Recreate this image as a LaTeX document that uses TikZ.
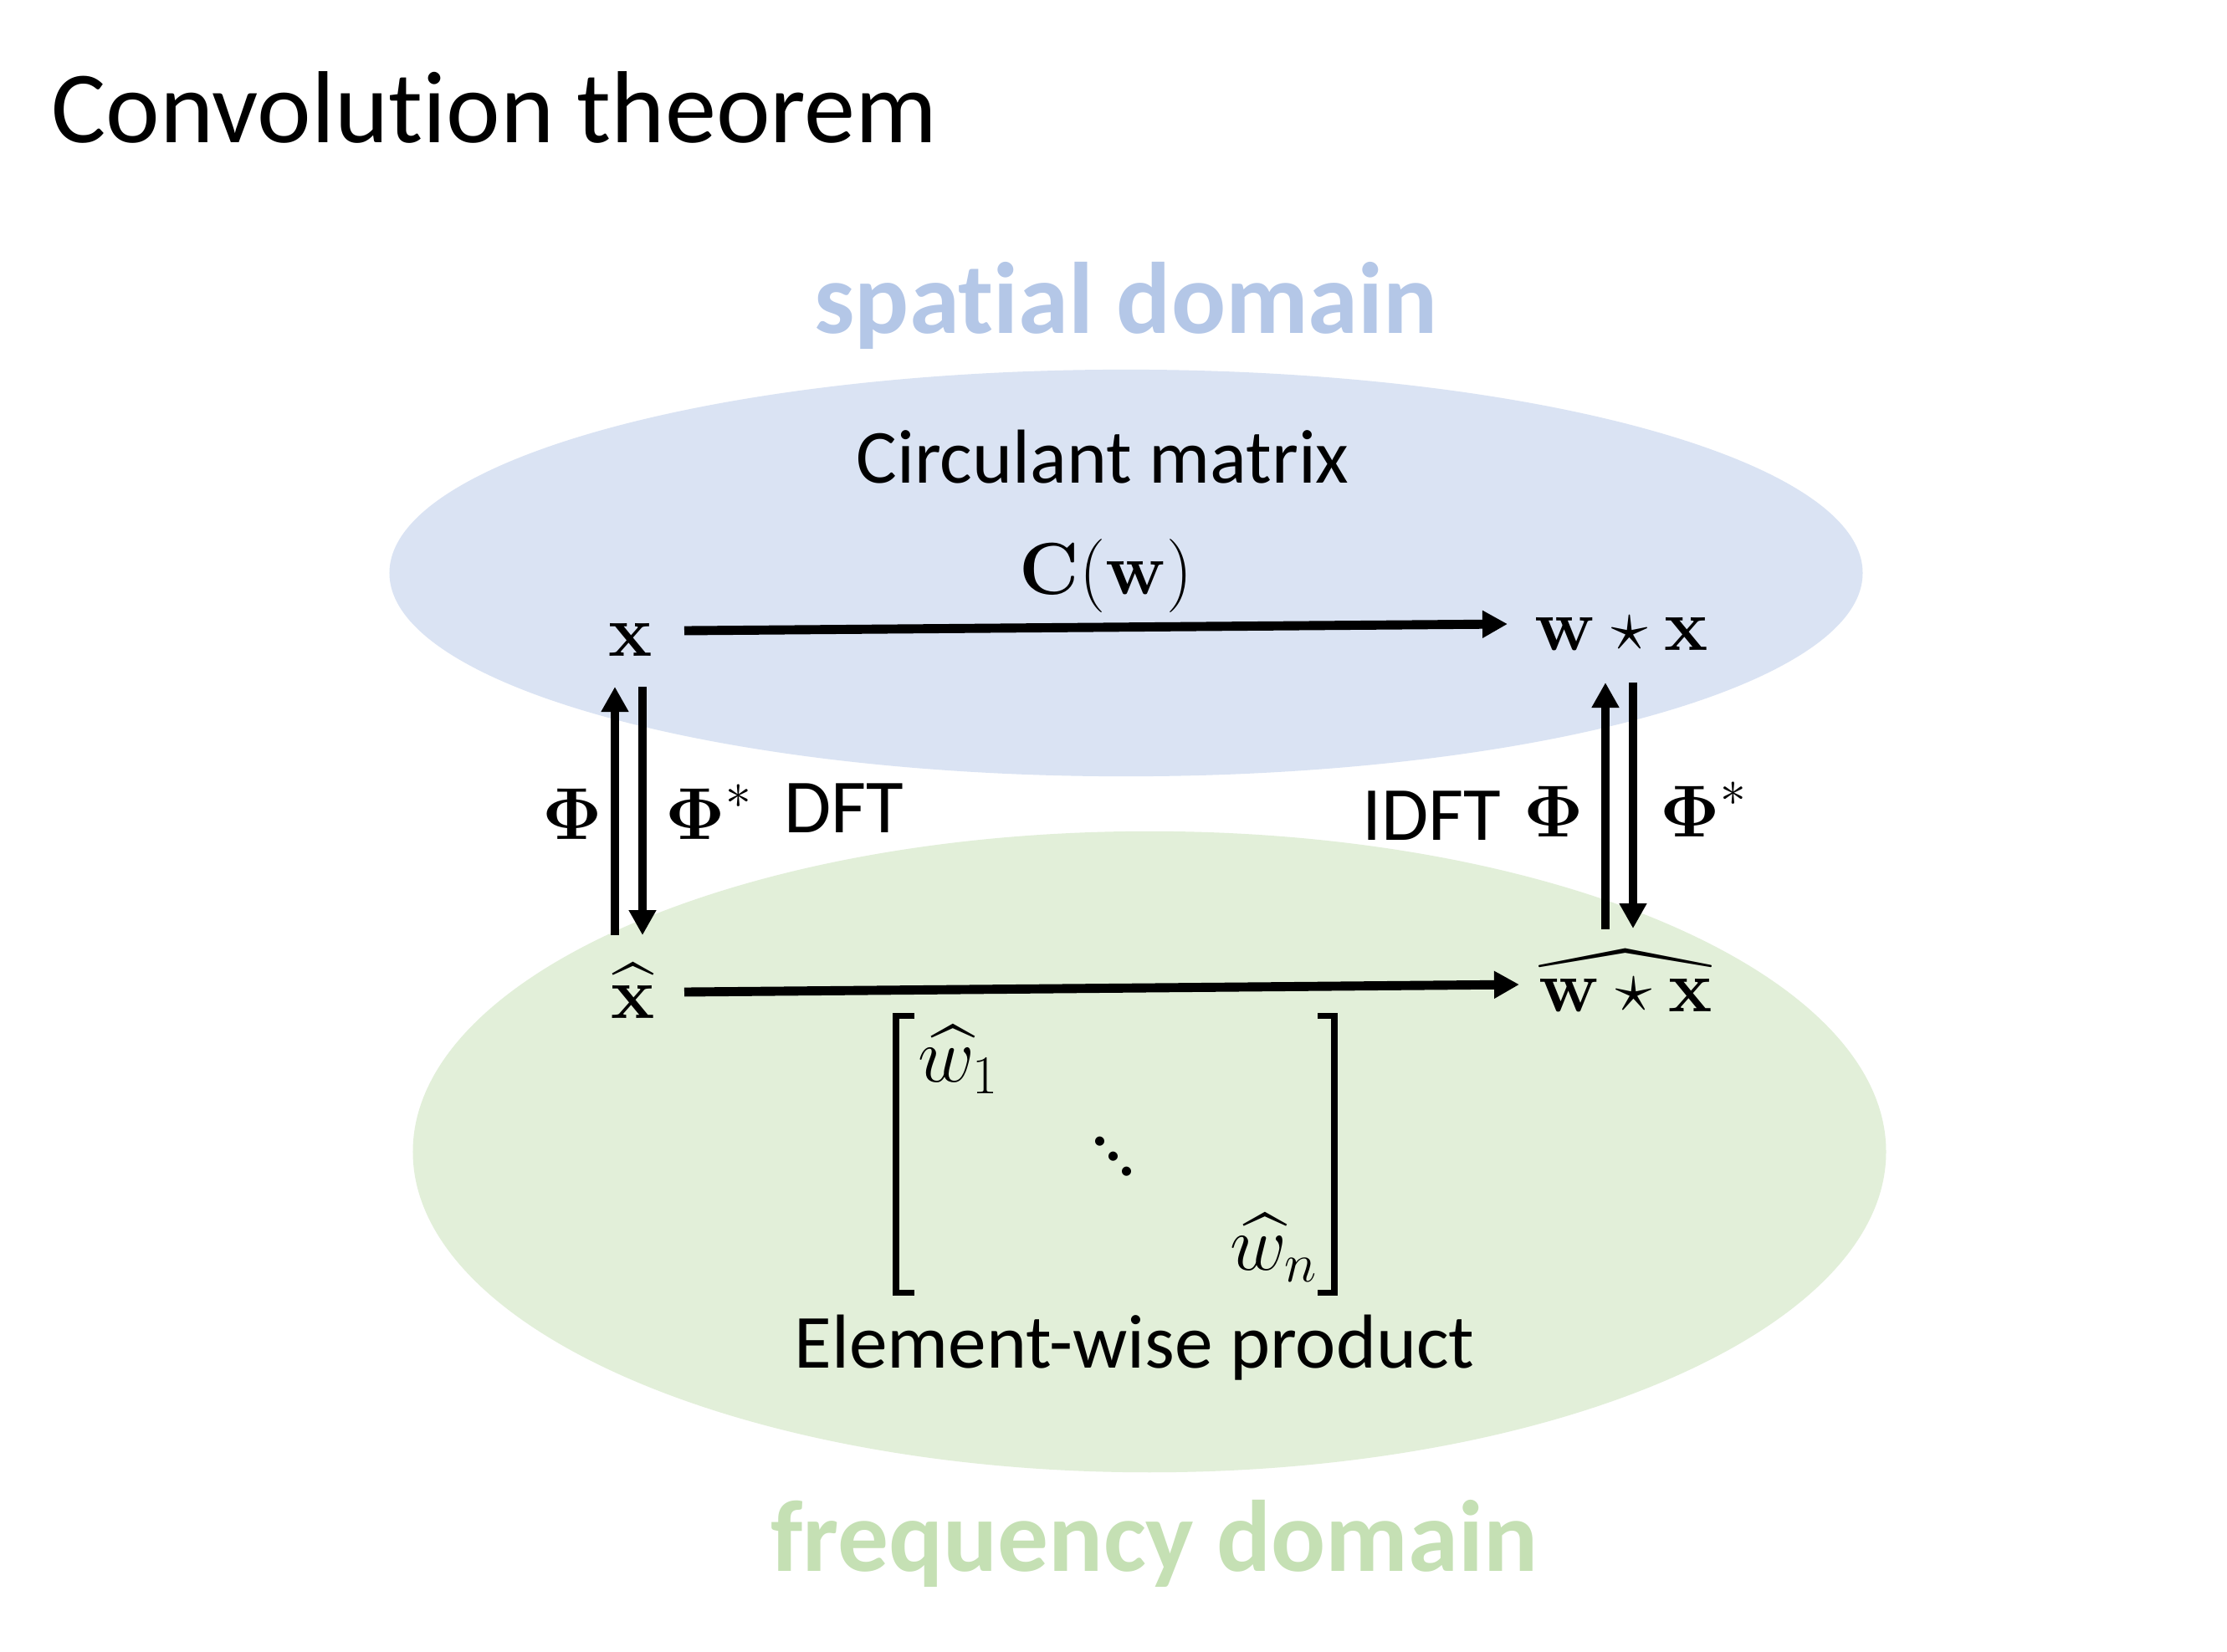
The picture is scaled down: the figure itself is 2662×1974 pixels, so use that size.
\RequirePackage{fix-cm}
\documentclass[tikz,border=0pt]{standalone}
\usepackage{amsmath,amssymb}
\usepackage[no-math]{fontspec}
\setmainfont[Ligatures=NoCommon]{Carlito}
\usetikzlibrary{arrows.meta}
\definecolor{spatialfill}{HTML}{DAE3F3}
\definecolor{freqfill}{HTML}{E2EFD9}
\definecolor{spatialtext}{HTML}{B4C7E7}
\definecolor{freqtext}{HTML}{C5E0B4}
\begin{document}
\begin{tikzpicture}[x=0.01cm,y=-0.01cm,
  ttl/.style={anchor=base west,inner sep=0pt,font=\fontsize{34.8}{40}\selectfont},
  dom/.style={anchor=base,inner sep=0pt,font=\fontsize{34.5}{42}\selectfont\bfseries},
  lbl/.style={anchor=base,inner sep=0pt,font=\fontsize{26}{31}\selectfont},
  mth/.style={anchor=base,inner sep=0pt,font=\fontsize{25}{30}\selectfont},
  ment/.style={anchor=base west,inner sep=0pt,font=\fontsize{26.5}{31}\selectfont},
  arr/.style={line width=3.1pt,-{Triangle[length=3mm,width=3.1mm]}},
  brk/.style={line width=2pt},
]
\fill[white] (0,0) rectangle (2662,1974);
\useasboundingbox (0,0) rectangle (2662,1974);

% domains
\fill[spatialfill] (1346,685) ellipse [x radius=8.8cm, y radius=2.43cm];
\fill[freqfill] (1374,1377) ellipse [x radius=8.8cm, y radius=3.83cm];

% texts
\node[ttl] (title) at (61,170) {Convolution theorem};
\node[dom, text=spatialtext] (spt) at (1346,398) {spatial domain};
\node[dom, text=freqtext] (frt) at (1380,1878) {frequency domain};
\node[lbl] (circ) at (1318,577) {Circulant matrix};
\node[lbl] (elem) at (1356,1635) {Element-wise product};
\node[lbl, anchor=base west] (dft) at (937,995) {DFT};
\node[lbl, anchor=base east] (idft) at (1795,1004) {IDFT};

% math
\node[mth] (x) at (754,784) {$\mathbf{x}$};
\node[mth] (wx) at (1938,777) {$\mathbf{w}\star\mathbf{x}$};
\node[mth] (xh) at (757,1217) {$\widehat{\mathbf{x}}$};
\node[mth] (wxh) at (1943,1209) {$\widehat{\mathbf{w}\star\mathbf{x}}$};
\node[mth] (cw) at (1322,710) {$\mathbf{C}(\mathbf{w})$};
\node[mth] (phiL) at (684,1003) {$\boldsymbol{\Phi}$};
\node[mth, anchor=base west] (phisL) at (795,1003) {$\boldsymbol{\Phi}^*$};
\node[mth] (phiR) at (1857,1000) {$\boldsymbol{\Phi}$};
\node[mth, anchor=base west] (phisR) at (1984,1000) {$\boldsymbol{\Phi}^*$};
\node[ment] (w1) at (1097,1293) {$\widehat{w}_{1}$};
\node[anchor=center, inner sep=0pt, font=\fontsize{26}{30}\selectfont] (dd) at (1331,1383)
  {\raisebox{10.2pt}{.}\kern-2pt\raisebox{5.1pt}{.}\kern-2pt.};
\node[ment] (wn) at (1470,1518) {$\widehat{w}_{n}$};

% matrix brackets
\draw[brk] (1093,1214) -- (1071,1214) -- (1071,1545) -- (1093,1545);
\draw[brk] (1575,1214) -- (1595,1214) -- (1595,1545) -- (1575,1545);

% connector end points
\coordinate (a1s) at (818,754);  \coordinate (a1e) at (1802,746);
\coordinate (a2s) at (818,1186); \coordinate (a2e) at (1816,1177);
\coordinate (lus) at (735,1118); \coordinate (lue) at (735,821);
\coordinate (lds) at (768,821);  \coordinate (lde) at (768,1118);
\coordinate (rus) at (1919,1111); \coordinate (rue) at (1919,816);
\coordinate (rds) at (1952,816);  \coordinate (rde) at (1952,1110);

\draw[arr] (a1s) -- (a1e);
\draw[arr] (a2s) -- (a2e);
\draw[arr] (lus) -- (lue);
\draw[arr] (lds) -- (lde);
\draw[arr] (rus) -- (rue);
\draw[arr] (rds) -- (rde);
\end{tikzpicture}
\end{document}
